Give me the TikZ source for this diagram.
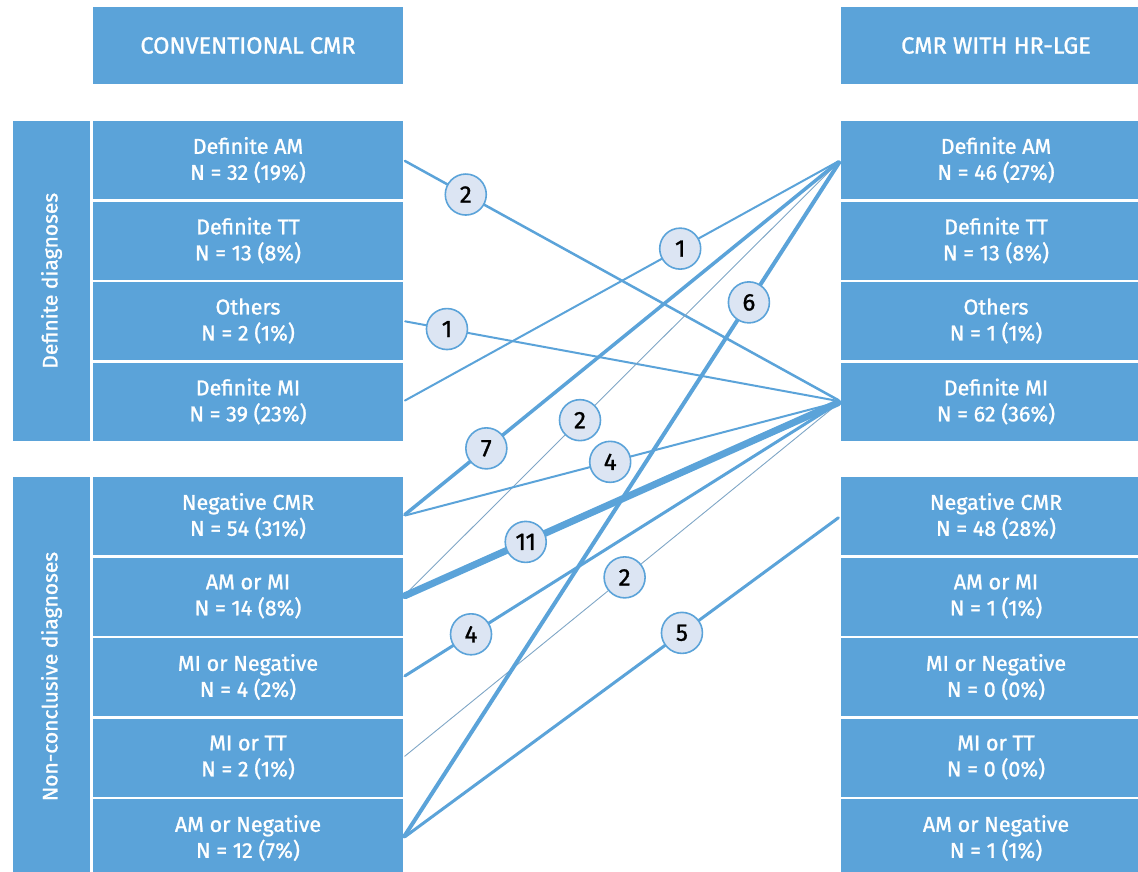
\documentclass[tikz,border=0pt]{standalone}
\usepackage{fontspec}
\setmainfont{Fira Sans}[FakeBold=1.2]
\definecolor{boxblue}{HTML}{5BA3D9}
\definecolor{dotfill}{HTML}{DCE5F3}
\definecolor{thinblue}{HTML}{7FA6C6}

\begin{document}
\begin{tikzpicture}[x=1pt, y=-1pt, line cap=round, line join=round, font=\fontsize{21.5}{26}\selectfont]
	\tikzset{cell/.style={fill=boxblue, text=white, minimum width=310pt, minimum height=78pt, inner sep=0pt, align=center},
		head/.style={cell, minimum height=77pt, font=\fontsize{23.5}{26}\selectfont},
		side/.style={fill=boxblue, text=white, minimum height=77pt, inner sep=0pt, rotate=90, font=\fontsize{21}{24}\selectfont},
		flow/.style={draw=boxblue, line width=#1, shorten <=2pt, shorten >=3pt},
		thin flow/.style={draw=thinblue, line width=0.9pt, shorten <=2pt, shorten >=3pt},
		num/.style={circle, draw=boxblue, fill=dotfill, line width=1.6pt, minimum size=41pt, inner sep=0pt, text=black, font=\fontsize{24}{24}\selectfont}}
	\useasboundingbox (0,0) rectangle (1138,872);

	% column heads
	\node[head] (lhead) at (248,45.5) {CONVENTIONAL CMR};
	\node[head] (rhead) at (996,45.5) {CMR WITH HR-LGE};

	% group labels
	\node[side, minimum width=319.5pt] (gdef) at (51.5,280.75) {Definite diagnoses};
	\node[side, minimum width=399pt] (gnon) at (51.5,676.5) {Non-conclusive diagnoses};

	% rows: name / y / label / left count / right count
	\foreach \n/\y/\t/\p/\q in {
		dam/160/Definite AM/N = 32 (19\%)/N = 46 (27\%),
		dtt/240.5/Definite TT/N = 13 (8\%)/N = 13 (8\%),
		oth/321/Others/N = 2 (1\%)/N = 1 (1\%),
		dmi/401.5/Definite MI/N = 39 (23\%)/N = 62 (36\%),
		neg/516/Negative CMR/N = 54 (31\%)/N = 48 (28\%),
		amm/596.5/AM or MI/N = 14 (8\%)/N = 1 (1\%),
		min/677/MI or Negative/N = 4 (2\%)/N = 0 (0\%),
		mtt/757.5/MI or TT/N = 2 (1\%)/N = 0 (0\%),
		amn/838/AM or Negative/N = 12 (7\%)/N = 1 (1\%)}{
		\node[cell] (l\n) at (248,\y) {\t\\\p};
		\node[cell] (r\n) at (996,\y) {\t\\\q};
	}

	% reclassifications
	\draw[flow=2.5pt] (ldam.east) -- node[num, pos=.143]{2} (rdmi.west);
	\draw[flow=2pt] (loth.east) -- node[num, pos=.10]{1} (rdmi.west);
	\draw[flow=2pt] (ldmi.east) -- node[num, pos=.633]{1} (rdam.west);
	\draw[thin flow] (lamm.east) -- node[num, pos=.404]{2} (rdam.west);
	\draw[thin flow] (lmtt.east) -- node[num, pos=.506]{2} (rdmi.west);
	\draw[flow=3.5pt] (lneg.east) -- node[num, pos=.19]{7} (rdam.west);
	\draw[flow=2pt] (lneg.east) -- node[num, pos=.473]{4} (rdmi.west);
	\draw[flow=7pt] (lamm.east) -- node[num, pos=.28]{11} (rdmi.west);
	\draw[flow=3pt] (lmin.east) -- node[num, pos=.155]{4} (rdmi.west);
	\draw[flow=4pt] (lamn.east) -- node[num, pos=.79]{6} (rdam.west);
	\draw[flow=3pt] (lamn.east) -- node[num, pos=.637]{5} (rneg.west);
\end{tikzpicture}
\end{document}
